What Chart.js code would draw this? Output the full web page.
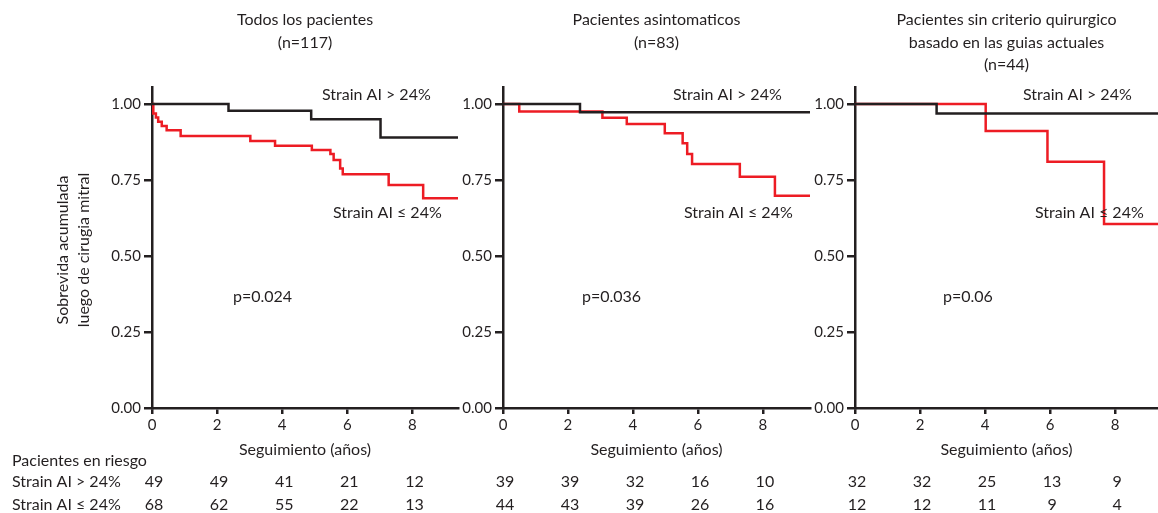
<!DOCTYPE html>
<html>
<head>
<meta charset="utf-8">
<title>Sobrevida libre de cirugia mitral</title>
<script src="https://cdn.jsdelivr.net/npm/chart.js@4.4.1/dist/chart.umd.min.js"></script>
<style>
  body { margin: 0; background: #fff; }
  #wrap { position: relative; width: 1158px; height: 513px; overflow: hidden; }
  canvas { position: absolute; top: 0; }
</style>
</head>
<body>
<div id="wrap">
  <canvas id="c1" width="460" height="513" style="left:0"></canvas>
  <canvas id="c2" width="352" height="513" style="left:460px"></canvas>
  <canvas id="c3" width="346" height="513" style="left:812px"></canvas>
</div>
<script>
// tiempos (años) para la tabla de pacientes en riesgo
const riskTimes = [0, 2, 4, 6, 8];
const yTicks = [0, 0.25, 0.5, 0.75, 1];

// Todos los pacientes (n=117)
const todosAltoT = [0, 2.35, 4.89, 7.02, 9.4];
const todosAltoS = [1.0, 0.978, 0.950, 0.890, 0.890];
const todosBajoT = [0, 0.04, 0.12, 0.19, 0.30, 0.45, 0.88, 3.02, 3.78, 4.91, 5.48, 5.58, 5.78, 5.86, 7.27, 8.33, 9.4];
const todosBajoS = [1.0, 0.969, 0.956, 0.942, 0.928, 0.914, 0.895, 0.878, 0.863, 0.849, 0.836, 0.816, 0.788, 0.769, 0.734, 0.690, 0.690];
const todosRiesgoAlto = [49, 49, 41, 21, 12];
const todosRiesgoBajo = [68, 62, 55, 22, 13];

// Pacientes asintomaticos (n=83)
const asintAltoT = [0, 2.37, 9.45];
const asintAltoS = [1.0, 0.973, 0.973];
const asintBajoT = [0, 0.50, 3.06, 3.81, 4.98, 5.53, 5.67, 5.82, 7.29, 8.37, 9.45];
const asintBajoS = [1.0, 0.975, 0.955, 0.934, 0.904, 0.871, 0.836, 0.803, 0.761, 0.698, 0.698];
const asintRiesgoAlto = [39, 39, 32, 16, 10];
const asintRiesgoBajo = [44, 43, 39, 26, 16];

// Pacientes sin criterio quirurgico (n=44)
const sinCritAltoT = [0, 2.51, 9.32];
const sinCritAltoS = [1.0, 0.969, 0.969];
const sinCritBajoT = [0, 4.02, 5.92, 7.66, 9.32];
const sinCritBajoS = [1.0, 0.911, 0.810, 0.605, 0.605];
const sinCritRiesgoAlto = [32, 32, 25, 13, 9];
const sinCritRiesgoBajo = [12, 12, 11, 9, 4];

const NEGRO = "#231f20";
const ROJO = "#ed1c24";
const FUENTE = "Lato";

const toPts = (t, s) => t.map((v, i) => ({ x: v, y: s[i] }));

// textos: titulos, etiquetas, p, eje x y tabla de riesgo
const textos = {
  id: "textos",
  afterDraw(chart, args, o) {
    const { ctx, chartArea: a, scales: { x } } = chart;
    const cx = (a.left + a.right) / 2;
    ctx.save();
    ctx.fillStyle = NEGRO;
    ctx.font = "16px " + FUENTE;
    ctx.textBaseline = "middle";
    ctx.textAlign = "center";
    o.titulo.forEach((t, i) => ctx.fillText(t, cx, 20 + i * 22.5));
    ctx.fillText("Seguimiento (años)", cx, 450);

    riskTimes.forEach((t, i) => {
      const px = x.getPixelForValue(t) + 2;
      ctx.fillText(String(o.riesgoAlto[i]), px, 482);
      ctx.fillText(String(o.riesgoBajo[i]), px, 505);
    });

    ctx.textAlign = "left";
    ctx.fillText("Strain AI > 24%", a.left + o.dxAlto, 95);
    ctx.fillText("Strain AI \u2264 24%", a.left + o.dxBajo, 213);
    ctx.fillText(o.p, a.left + o.dxP, 297);

    if (o.primero) {
      ctx.fillText("Pacientes en riesgo", 12, 461);
      ctx.fillText("Strain AI > 24%", 12, 482);
      ctx.fillText("Strain AI \u2264 24%", 12, 505);
      ctx.save();
      ctx.translate(63, 250);
      ctx.rotate(-Math.PI / 2);
      ctx.textAlign = "center";
      ctx.fillText("Sobrevida acumulada", 0, 0);
      ctx.fillText("luego de cirugia mitral", 0, 21);
      ctx.restore();
    }
    ctx.restore();
  }
};

function panel(id, cfg) {
  new Chart(document.getElementById(id), {
    type: "line",
    data: {
      datasets: [
        { data: toPts(cfg.altoT, cfg.altoS), borderColor: NEGRO },
        { data: toPts(cfg.bajoT, cfg.bajoS), borderColor: ROJO }
      ]
    },
    options: {
      responsive: false,
      animation: false,
      layout: { padding: { left: 0, right: cfg.padR, top: 87, bottom: 0 } },
      elements: {
        line: { stepped: true, borderWidth: 2.5, fill: false, tension: 0 },
        point: { radius: 0 }
      },
      plugins: {
        legend: { display: false },
        tooltip: { enabled: false },
        textos: cfg
      },
      scales: {
        x: {
          type: "linear",
          min: 0,
          max: cfg.xMax,
          afterFit: s => { s.height = 105; },
          afterBuildTicks: s => { s.ticks = riskTimes.map(v => ({ value: v })); },
          border: { color: NEGRO, width: 2.5 },
          grid: { drawOnChartArea: false, color: NEGRO, lineWidth: 2.5, tickLength: 6 },
          ticks: { color: NEGRO, font: { family: FUENTE, size: 15 }, padding: 2, maxRotation: 0 }
        },
        y: {
          min: 0,
          max: 1.056,
          afterFit: s => { s.width = cfg.anchoY; },
          afterBuildTicks: s => { s.ticks = yTicks.map(v => ({ value: v })); },
          border: { color: NEGRO, width: 2.5 },
          grid: { drawOnChartArea: false, color: NEGRO, lineWidth: 2.5, tickLength: 8 },
          ticks: { color: NEGRO, font: { family: FUENTE, size: 15 }, padding: 3,
                   callback: v => v.toFixed(2) }
        }
      }
    },
    plugins: [textos]
  });
}

panel("c1", {
  titulo: ["Todos los pacientes", "(n=117)"], p: "p=0.024",
  altoT: todosAltoT, altoS: todosAltoS, bajoT: todosBajoT, bajoS: todosBajoS,
  riesgoAlto: todosRiesgoAlto, riesgoBajo: todosRiesgoBajo,
  xMax: 9.4, anchoY: 152, padR: 2, dxAlto: 170, dxBajo: 181, dxP: 81, primero: true
});
panel("c2", {
  titulo: ["Pacientes asintomaticos", "(n=83)"], p: "p=0.036",
  altoT: asintAltoT, altoS: asintAltoS, bajoT: asintBajoT, bajoS: asintBajoS,
  riesgoAlto: asintRiesgoAlto, riesgoBajo: asintRiesgoBajo,
  xMax: 9.45, anchoY: 43, padR: 2, dxAlto: 170, dxBajo: 181, dxP: 79
});
panel("c3", {
  titulo: ["Pacientes sin criterio quirurgico", "basado en las guias actuales", "(n=44)"], p: "p=0.06",
  altoT: sinCritAltoT, altoS: sinCritAltoS, bajoT: sinCritBajoT, bajoS: sinCritBajoS,
  riesgoAlto: sinCritRiesgoAlto, riesgoBajo: sinCritRiesgoBajo,
  xMax: 9.32, anchoY: 43, padR: 0, dxAlto: 168, dxBajo: 180, dxP: 88
});
</script>
</body>
</html>
